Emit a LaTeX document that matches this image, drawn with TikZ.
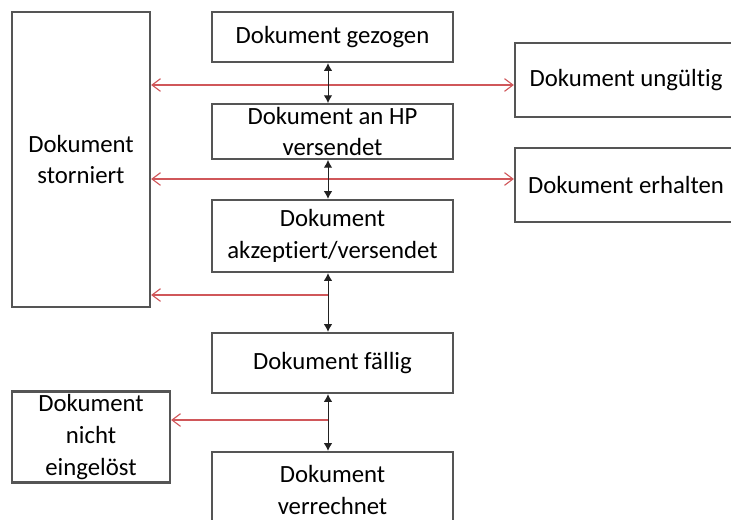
\documentclass[tikz,border=0pt]{standalone}
\usepackage{fontspec}
\setmainfont{Carlito}[Ligatures=NoCommon]
\usepackage{xcolor}
\usepackage{tikz}
\usetikzlibrary{arrows.meta}
\definecolor{Frame}{HTML}{555555}
\definecolor{Ink}{HTML}{222222}
\definecolor{Flow}{HTML}{D0575A}

\begin{document}
\begin{tikzpicture}[
  x=0.025cm, y=-0.025cm,
  font=\fontsize{17.6}{22.5}\selectfont,
  box/.style={draw=Frame, line width=1.6pt, align=center, fill=white, inner sep=2pt},
  arrow/.style={{Latex[length=5.5pt, width=6pt]}-{Latex[length=5.5pt, width=6pt]}, draw=Ink, line width=0.7pt},
  redarrow/.style={-{Straight Barb[length=6pt, width=9pt]}, draw=Flow, line width=0.8pt}
]
\clip (0,0) rectangle (731,520);
\fill[white] (0,0) rectangle (731,520);

\node[box, minimum width=138*0.025cm, minimum height=295*0.025cm] (storniert) at (81,159.5) {Dokument\\storniert};
\node[box, minimum width=241*0.025cm, minimum height=50*0.025cm] (gezogen) at (332.5,37) {Dokument gezogen};
\node[box, minimum width=241*0.025cm, minimum height=51*0.025cm] (versendet) at (332.5,131.5) {Dokument an HP\\versendet};
\node[box, minimum width=241*0.025cm, minimum height=72*0.025cm] (akzeptiert) at (332.5,236) {Dokument\\akzeptiert/versendet};
\node[box, minimum width=241*0.025cm, minimum height=60*0.025cm] (faellig) at (332.5,363) {Dokument fällig};
\node[box, minimum width=158*0.025cm, minimum height=91*0.025cm] (eingeloest) at (91,437) {Dokument\\nicht\\eingelöst};
\node[box, minimum width=241*0.025cm, minimum height=76*0.025cm] (verrechnet) at (332.5,490) {Dokument\\verrechnet};
\node[box, minimum width=222*0.025cm, minimum height=74*0.025cm] (ungueltig) at (626,80) {Dokument ungültig};
\node[box, minimum width=222*0.025cm, minimum height=74*0.025cm] (erhalten) at (626,185) {Dokument erhalten};

% main line of states
\coordinate (axis) at (328,0);
\coordinate (split1) at (328,295);
\coordinate (split2) at (328,420);

\draw[redarrow, {Straight Barb[length=6pt, width=9pt]}-{Straight Barb[length=6pt, width=9pt]}] (storniert.east |- 0,85) -- (ungueltig.west |- 0,85);
\draw[redarrow, {Straight Barb[length=6pt, width=9pt]}-{Straight Barb[length=6pt, width=9pt]}] (storniert.east |- 0,179) -- (erhalten.west |- 0,179);
\draw[redarrow] (split1) -- (storniert.east |- split1);
\draw[redarrow] (split2) -- (eingeloest.east |- split2);

\draw[arrow] (gezogen.south -| axis) -- (versendet.north -| axis);
\draw[arrow] (versendet.south -| axis) -- (akzeptiert.north -| axis);
\draw[arrow] (akzeptiert.south -| axis) -- (faellig.north -| axis);
\draw[arrow] (faellig.south -| axis) -- (verrechnet.north -| axis);
\end{tikzpicture}
\end{document}
